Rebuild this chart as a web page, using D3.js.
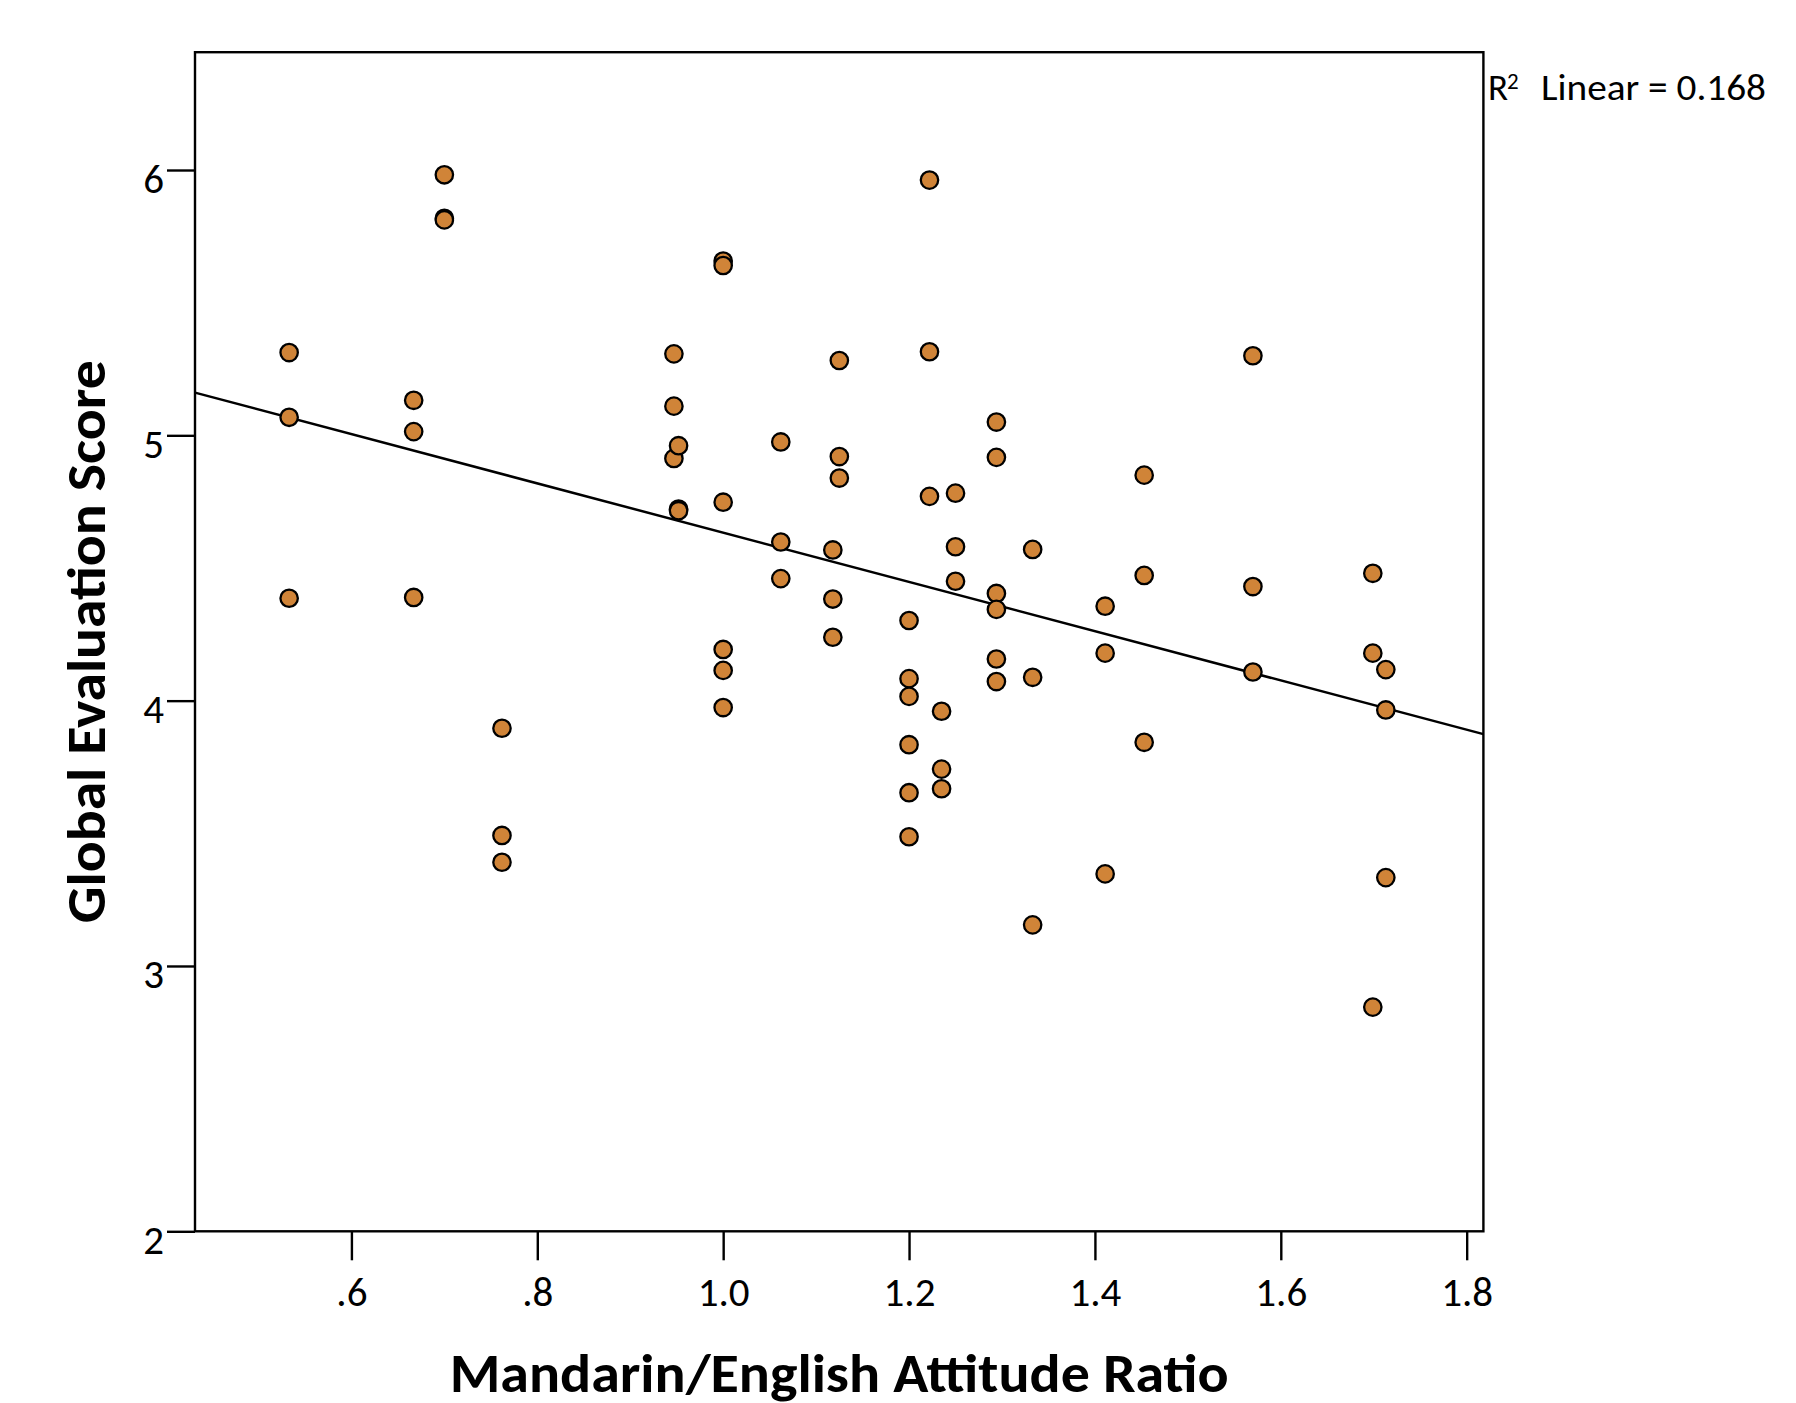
<!DOCTYPE html>
<html>
<head>
<meta charset="utf-8">
<script src="https://cdn.jsdelivr.net/npm/d3@7/dist/d3.min.js"></script>
<style>
    html, body { margin:0; padding:0; background:#fff; }
    svg { display:block; }
</style>
</head>
<body>
<div id="chart"></div>
<script>
// attitude ratio (x) for each rating, grouped by column
const ratios = [
    0.533, 0.533, 0.533,
    0.667, 0.667, 0.667,
    0.700, 0.700, 0.700,
    0.762, 0.762, 0.762,
    0.947, 0.947, 0.947,
    0.952, 0.952, 0.952,
    1.000, 1.000, 1.000, 1.000, 1.000, 1.000,
    1.062, 1.062, 1.062,
    1.118, 1.118, 1.118,
    1.125, 1.125, 1.125,
    1.200, 1.200, 1.200, 1.200, 1.200, 1.200,
    1.222, 1.222, 1.222,
    1.235, 1.235, 1.235,
    1.250, 1.250, 1.250,
    1.294, 1.294, 1.294, 1.294, 1.294, 1.294,
    1.333, 1.333, 1.333,
    1.411, 1.411, 1.411,
    1.453, 1.453, 1.453,
    1.570, 1.570, 1.570,
    1.699, 1.699, 1.699,
    1.713, 1.713, 1.713
];
// global evaluation score, same order as ratios
const scores = [
    5.312, 5.068, 4.386,
    5.132, 5.014, 4.389,
    5.982, 5.818, 5.812,
    3.896, 3.492, 3.391,
    5.307, 5.110, 4.913,
    4.961, 4.722, 4.716,
    5.657, 5.640, 4.748, 4.193, 4.114, 3.974,
    4.975, 4.598, 4.460,
    4.568, 4.383, 4.239,
    5.282, 4.920, 4.839,
    4.302, 4.083, 4.016, 3.834, 3.653, 3.487,
    5.962, 5.315, 4.770,
    3.960, 3.742, 3.668,
    4.782, 4.580, 4.450,
    5.050, 4.917, 4.404, 4.344, 4.157, 4.072,
    4.570, 4.088, 3.155,
    4.356, 4.179, 3.347,
    4.850, 4.472, 3.843,
    5.300, 4.430, 4.108,
    4.480, 4.179, 2.845,
    4.117, 3.965, 3.333
];
const xTicks = [0.6, 0.8, 1.0, 1.2, 1.4, 1.6, 1.8];
const yTicks = [2, 3, 4, 5, 6];
const xDomain = [0.4317, 1.818];
const yDomain = [2, 6.444];
const xTitle = "Mandarin/English Attitude Ratio";
const yTitle = "Global Evaluation Score";
const r2Label = "Linear = 0.168";

const WIDTH = 1796;
const HEIGHT = 1403;
const margin = { left:195, right:1796 - 1483.4, top:52.2, bottom:1403 - 1231.3 };
const plotWidth = WIDTH - margin.left - margin.right;
const plotHeight = HEIGHT - margin.top - margin.bottom;
const FONT = "Carlito, Lato, 'Open Sans', sans-serif";
const DOT_FILL = "#D08438";
const TICK_FONT_SIZE = 41;

const data = ratios.map((r,i) => ({ x:r, y:scores[i] }));

//least squares fit
function linearFit(points){
    const mx = d3.mean(points, d => d.x);
    const my = d3.mean(points, d => d.y);
    const sxy = d3.sum(points, d => (d.x - mx) * (d.y - my));
    const sxx = d3.sum(points, d => (d.x - mx) * (d.x - mx));
    const slope = sxy / sxx;
    return { slope, intercept: my - slope * mx };
}

const svg = d3.select("#chart").append("svg")
    .attr("width", WIDTH)
    .attr("height", HEIGHT)
    .attr("font-family", FONT);

const x = d3.scaleLinear().domain(xDomain).range([0, plotWidth]);
const y = d3.scaleLinear().domain(yDomain).range([plotHeight, 0]);

const g = svg.append("g")
    .attr("transform", `translate(${margin.left},${margin.top})`);

//axes
const yAxisG = g.append("g")
    .attr("class", "y-axis")
    .call(d3.axisLeft(y).tickValues(yTicks).tickSize(28).tickPadding(3).tickFormat(d3.format("d")));
yAxisG.select(".domain").remove();
yAxisG.selectAll(".tick line").attr("stroke", "#000").attr("stroke-width", 2.4);
yAxisG.selectAll(".tick text")
    .attr("dy", 22)
    .attr("font-size", TICK_FONT_SIZE)
    .attr("font-family", FONT)
    .attr("fill", "#000");

const xAxisG = g.append("g")
    .attr("class", "x-axis")
    .attr("transform", `translate(0,${plotHeight})`)
    .call(d3.axisBottom(x).tickValues(xTicks).tickSize(29)
        .tickFormat(d => d < 1 ? d3.format(".1f")(d).replace(/^0/, "") : d3.format(".1f")(d)));
xAxisG.select(".domain").remove();
xAxisG.selectAll(".tick line").attr("stroke", "#000").attr("stroke-width", 2.4);
xAxisG.selectAll(".tick text")
    .attr("y", 75)
    .attr("dy", 0)
    .attr("font-size", TICK_FONT_SIZE)
    .attr("font-family", FONT)
    .attr("fill", "#000");

//frame
g.append("rect")
    .attr("class", "frame")
    .attr("width", plotWidth)
    .attr("height", plotHeight)
    .attr("fill", "none")
    .attr("stroke", "#000")
    .attr("stroke-width", 2.4);

//fit line
const fit = linearFit(data);
g.append("line")
    .attr("class", "fit-line")
    .attr("x1", x(xDomain[0]))
    .attr("y1", y(fit.intercept + fit.slope * xDomain[0]))
    .attr("x2", x(xDomain[1]))
    .attr("y2", y(fit.intercept + fit.slope * xDomain[1]))
    .attr("stroke", "#000")
    .attr("stroke-width", 2.5);

//points
g.selectAll("circle.dot").data(data)
    .join("circle")
        .attr("class", "dot")
        .attr("cx", d => x(d.x))
        .attr("cy", d => y(d.y))
        .attr("r", 8.7)
        .attr("fill", DOT_FILL)
        .attr("stroke", "#000")
        .attr("stroke-width", 2.3);

//axis titles
svg.append("text")
    .attr("class", "x-title")
    .attr("x", margin.left + plotWidth / 2)
    .attr("y", 1392)
    .attr("text-anchor", "middle")
    .attr("font-size", 54)
    .attr("font-weight", "bold")
    .attr("textLength", 779)
    .attr("lengthAdjust", "spacingAndGlyphs")
    .text(xTitle);

svg.append("text")
    .attr("class", "y-title")
    .attr("transform", `translate(105,${margin.top + plotHeight / 2}) rotate(-90)`)
    .attr("text-anchor", "middle")
    .attr("font-size", 55)
    .attr("font-weight", "bold")
    .attr("textLength", 563)
    .attr("lengthAdjust", "spacingAndGlyphs")
    .text(yTitle);

//R squared label
svg.append("text")
    .attr("x", 1488)
    .attr("y", 100)
    .attr("font-size", 37)
    .text("R");
svg.append("text")
    .attr("x", 1507)
    .attr("y", 89)
    .attr("font-size", 23)
    .text("2");
svg.append("text")
    .attr("x", 1541)
    .attr("y", 100)
    .attr("font-size", 37)
    .attr("textLength", 225)
    .attr("lengthAdjust", "spacingAndGlyphs")
    .text(r2Label);
</script>
</body>
</html>
